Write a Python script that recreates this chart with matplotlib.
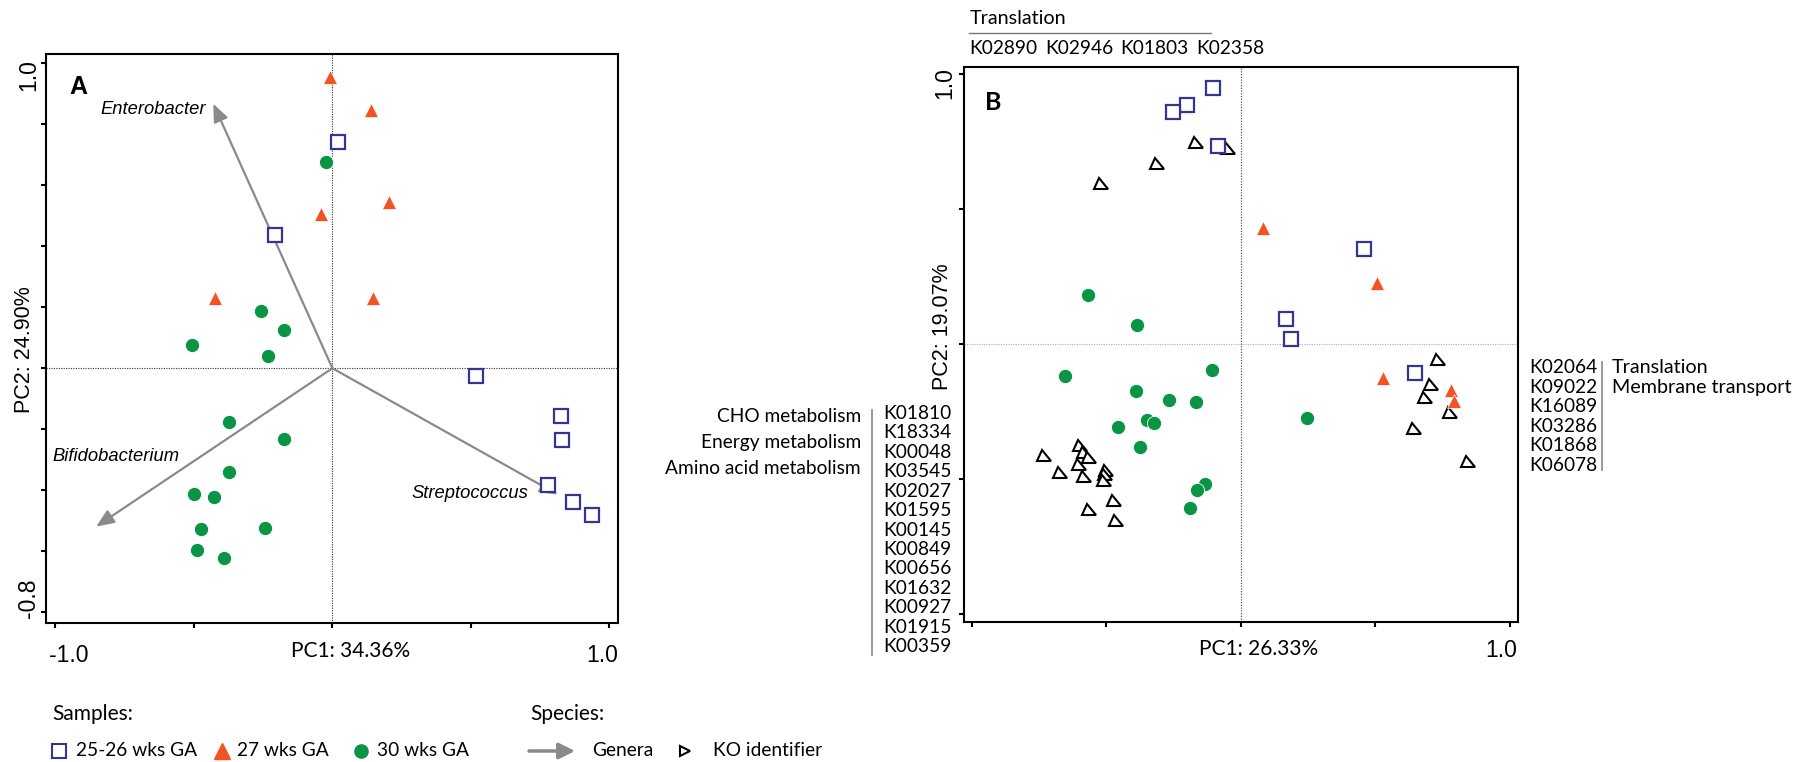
import matplotlib
matplotlib.use("Agg")
import matplotlib.pyplot as plt
from matplotlib.markers import MarkerStyle
from matplotlib.transforms import Affine2D

# ---- panel A: samples (PC1, PC2) ----
a_x_2526 = [0.021, -0.208, 0.518, 0.826, 0.828, 0.780, 0.869, 0.939]
a_y_2526 = [0.741, 0.437, -0.025, -0.157, -0.236, -0.383, -0.439, -0.480]
a_x_27 = [-0.008, 0.140, 0.206, -0.040, 0.146, -0.424]
a_y_27 = [0.956, 0.847, 0.546, 0.505, 0.229, 0.229]
a_x_30 = [-0.024, -0.257, -0.174, -0.507, -0.232, -0.372, -0.174, -0.374,
          -0.499, -0.427, -0.476, -0.244, -0.490, -0.390]
a_y_30 = [0.676, 0.187, 0.127, 0.075, 0.039, -0.177, -0.232, -0.341,
          -0.413, -0.421, -0.527, -0.525, -0.595, -0.622]

# genera loadings (arrow tips)
genera = ["Enterobacter", "Bifidobacterium", "Streptococcus"]
genera_x = [-0.430, -0.853, 0.814]
genera_y = [0.867, -0.519, -0.414]

# ---- panel B: samples + KO identifiers ----
b_x_2526 = [-0.103, -0.198, -0.251, -0.085, 0.459, 0.168, 0.186, 0.647]
b_y_2526 = [0.948, 0.886, 0.861, 0.734, 0.354, 0.094, 0.019, -0.106]
b_x_27 = [0.082, 0.507, 0.528, 0.780, 0.792]
b_y_27 = [0.430, 0.226, -0.124, -0.169, -0.209]
b_x_30 = [-0.566, -0.386, -0.651, -0.105, -0.390, -0.266, -0.168, -0.349,
          -0.324, -0.456, -0.375, 0.246, -0.131, -0.162, -0.188]
b_y_30 = [0.181, 0.071, -0.119, -0.094, -0.172, -0.206, -0.215, -0.280,
          -0.293, -0.307, -0.380, -0.272, -0.516, -0.541, -0.605]
b_x_ko = [-0.514, -0.308, -0.162, -0.043,
          -0.727, -0.667, -0.593, -0.578, -0.560, -0.596, -0.578, -0.498,
          -0.500, -0.504, -0.467, -0.560, -0.458,
          0.738, 0.712, 0.687, 0.780, 0.647, 0.847]
b_y_ko = [0.587, 0.662, 0.738, 0.717,
          -0.422, -0.484, -0.382, -0.410, -0.429, -0.456, -0.499, -0.478,
          -0.493, -0.513, -0.587, -0.622, -0.663,
          -0.064, -0.157, -0.206, -0.263, -0.321, -0.443]

ko_top = ["K02890", "K02946", "K01803", "K02358"]
ko_left = ["K01810", "K18334", "K00048", "K03545", "K02027", "K01595", "K00145",
           "K00849", "K00656", "K01632", "K00927", "K01915", "K00359"]
ko_right = ["K02064", "K09022", "K16089", "K03286", "K01868", "K06078"]
cats_top = "Translation"
cats_left = ["CHO metabolism", "Energy metabolism", "Amino acid metabolism"]
cats_right = ["Translation", "Membrane transport"]
sample_labels = ["25-26 wks GA", "27 wks GA", "30 wks GA"]

# colours / fonts
C_SQ = "#33358F"
C_TRI = "#F05423"
C_CIR = "#0A9445"
C_ARR = "#8A8A8A"
ARIAL = "Liberation Sans"
CAL = "Lato"

W, H = 1795, 762
fig = plt.figure(figsize=(W / 100, H / 100), dpi=100)


def px_axes(l, t, r, b, **kw):
    return fig.add_axes([l / W, (H - b) / H, (r - l) / W, (b - t) / H], **kw)


ko_marker = MarkerStyle(">", transform=Affine2D().rotate_deg(-25))


def style_axes(ax, xt, yt):
    ax.set_xticks(xt)
    ax.set_yticks(yt)
    ax.set_xticklabels([])
    ax.set_yticklabels([])
    ax.tick_params(direction="out", length=3.5, width=1.5, color="black")
    for s in ax.spines.values():
        s.set_linewidth(1.5)


def samples(ax, xs, ys, xt, yt, xc, yc):
    ax.plot(xs, ys, ls="none", marker="s", ms=9.6, mfc="white", mec=C_SQ, mew=1.6, zorder=5)
    ax.plot(xt, yt, ls="none", marker="^", ms=10.2, mfc=C_TRI, mec="white", mew=0.5, zorder=5)
    ax.plot(xc, yc, ls="none", marker="o", ms=10.2, mfc=C_CIR, mec="white", mew=0.6, zorder=5)


# ---------------- panel A ----------------
axA = px_axes(46, 54, 617.7, 622.7)
axA.set_xlim(-1.034, 1.030)
axA.set_ylim(-0.834, 1.030)
style_axes(axA, [-1, -0.5, 0, 0.5, 1], [-0.8, -0.6, -0.4, -0.2, 0, 0.2, 0.4, 0.6, 0.8, 1.0])
axA.axhline(0, color="#333333", lw=0.8, ls=(0, (1, 1.2)), zorder=1)
axA.axvline(0, color="#333333", lw=0.8, ls=(0, (1, 1.2)), zorder=1)
for gx, gy in zip(genera_x, genera_y):
    axA.annotate("", xy=(gx, gy), xytext=(0, 0),
                 arrowprops=dict(arrowstyle="-|>,head_length=0.6,head_width=0.25",
                                 color=C_ARR, lw=1.6, mutation_scale=18,
                                 shrinkA=0, shrinkB=0), zorder=2)
samples(axA, a_x_2526, a_y_2526, a_x_27, a_y_27, a_x_30, a_y_30)
genera_label_pos = [(-0.838, 0.847), (-1.011, -0.288), (0.284, -0.412)]
for name, (lx, ly) in zip(genera, genera_label_pos):
    axA.text(lx, ly, name, style="italic", fontsize=13.2, family=ARIAL,
             ha="left", va="center", zorder=6)
axA.text(-0.951, 0.921, "A", fontsize=18, fontweight="bold", family=ARIAL,
         ha="left", va="center")

# ---------------- panel B ----------------
axB = px_axes(963.7, 66.7, 1518.3, 621.7)
axB.set_xlim(-1.029, 1.031)
axB.set_ylim(-1.027, 1.028)
style_axes(axB, [-1, -0.5, 0, 0.5, 1], [-1, -0.5, 0, 0.5, 1])
axB.axhline(0, color="#aaaaaa", lw=0.8, ls=(0, (1, 1.2)), zorder=1)
axB.axvline(0, color="#555555", lw=0.9, ls=(0, (1, 1.2)), zorder=1)
axB.plot(b_x_ko, b_y_ko, ls="none", marker=ko_marker, ms=9, mfc="white",
         mec="black", mew=1.5, zorder=4)
samples(axB, b_x_2526, b_y_2526, b_x_27, b_y_27, b_x_30, b_y_30)
axB.text(-0.949, 0.896, "B", fontsize=18, fontweight="bold", family=CAL,
         ha="left", va="center")

# ---------------- overlay for outside texts (pixel coordinates) ----------------
ov = fig.add_axes([0, 0, 1, 1])
ov.set_xlim(0, W)
ov.set_ylim(H, 0)
ov.axis("off")
ov.patch.set_visible(False)

tick_kw = dict(fontsize=16.5, family=ARIAL)
ov.text(68.5, 662, "-1.0", ha="center", va="baseline", **tick_kw)
ov.text(601.7, 662, "1.0", ha="center", va="baseline", **tick_kw)
ov.text(35, 75, "1.0", rotation=90, rotation_mode="anchor", ha="center", va="baseline", **tick_kw)
ov.text(35, 598, "-0.8", rotation=90, rotation_mode="anchor", ha="center", va="baseline", **tick_kw)
ov.text(1501, 657, "1.0", ha="center", va="baseline", **tick_kw)
ov.text(951.7, 83, "1.0", rotation=90, rotation_mode="anchor", ha="center", va="baseline", **tick_kw)

ov.text(351, 657, "PC1: 34.36%", ha="center", va="baseline", fontsize=15, family=CAL)
ov.text(1258.7, 655, "PC1: 26.33%", ha="center", va="baseline", fontsize=15, family=CAL)
ov.text(30, 350, "PC2: 24.90%", rotation=90, rotation_mode="anchor", ha="center",
        va="baseline", fontsize=15.5, family=ARIAL)
ov.text(948.3, 326.7, "PC2: 19.07%", rotation=90, rotation_mode="anchor", ha="center",
        va="baseline", fontsize=15.5, family=ARIAL)

# top KO group
ko_kw = dict(fontsize=13.8, family=CAL, va="center")
ov.text(969.3, 19, cats_top, ha="left", fontsize=14.2, family=CAL, va="center")
ov.plot([969, 1211], [33.3, 33.3], color="#777777", lw=1)
for i, k in enumerate(ko_top):
    ov.text(969.3 + i * 75.6, 49, k, ha="left", **ko_kw)

# left KO group
for i, k in enumerate(ko_left):
    ov.text(883.3, 413.3 + i * 19.45, k, ha="left", **ko_kw)
ov.plot([871.7, 871.7], [410, 655], color="#888888", lw=1.2)
for i, c in enumerate(cats_left):
    ov.text(861, 416.7 + i * 25.8, c, ha="right", **ko_kw)

# right KO group
for i, k in enumerate(ko_right):
    ov.text(1529.3, 367.7 + i * 19.5, k, ha="left", **ko_kw)
ov.plot([1602.3, 1602.3], [361.7, 470], color="#888888", lw=1.2)
for i, c in enumerate(cats_right):
    ov.text(1611.7, 367.7 + i * 19.5, c, ha="left", fontsize=14.2, family=CAL, va="center")

# legend
leg_kw = dict(fontsize=13.8, family=CAL, va="center", ha="left")
ov.text(52.7, 714, "Samples:", fontsize=15, family=CAL, va="center", ha="left")
ov.text(530, 714, "Species:", fontsize=15, family=CAL, va="center", ha="left")
ov.plot([59], [751], marker="s", ms=10, mfc="white", mec=C_SQ, mew=1.5, ls="none")
ov.text(76, 751, sample_labels[0], **leg_kw)
ov.plot([222.3], [751], marker="^", ms=11, mfc=C_TRI, mec=C_TRI, ls="none")
ov.text(237.3, 751, sample_labels[1], **leg_kw)
ov.plot([360.7], [751], marker="o", ms=9.5, mfc=C_CIR, mec=C_CIR, ls="none")
ov.text(376.7, 751, sample_labels[2], **leg_kw)
ov.annotate("", xy=(575, 751), xytext=(529, 751),
            arrowprops=dict(arrowstyle="-|>,head_length=0.6,head_width=0.3",
                            color=C_ARR, lw=2.5, mutation_scale=16, shrinkA=0, shrinkB=0))
ov.text(592, 751, "Genera", **leg_kw)
ov.plot([685], [751], marker=">", ms=7, mfc="white", mec="black", mew=1.5, ls="none")
ov.text(713, 751, "KO identifier", **leg_kw)

fig.savefig("out.png", dpi=100)
